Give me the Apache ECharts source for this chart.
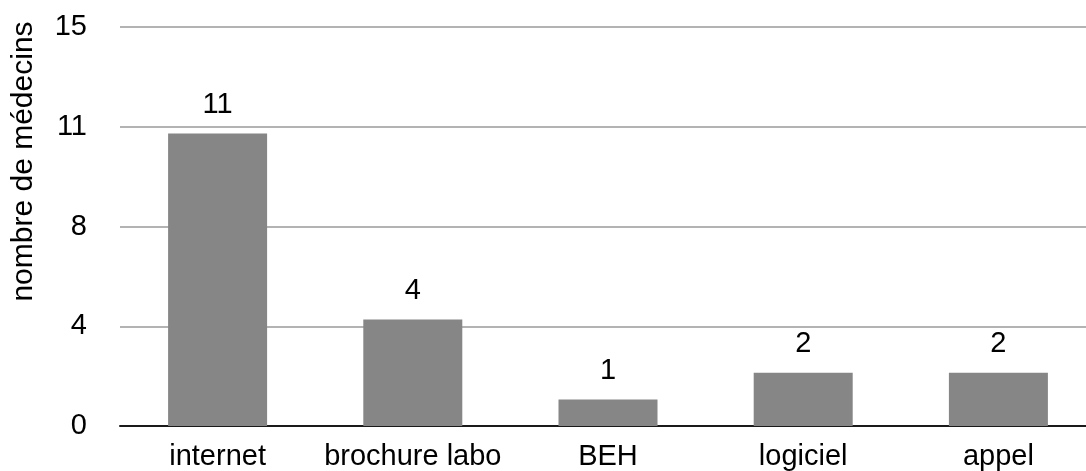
<!DOCTYPE html>
<html><head><meta charset="utf-8">
<script src="https://cdn.jsdelivr.net/npm/echarts@6/dist/echarts.min.js"></script>
<style>html,body{margin:0;padding:0;background:#fff;overflow:hidden;width:1086px;height:471px}#c{width:1100px;height:471px}</style>
</head><body><div id="c"></div>
<script>
var categories = ["internet", "brochure labo", "BEH", "logiciel", "appel"];
var values = [11, 4, 1, 2, 2];
var yMax = 15;
var yInterval = 3.75;
var yAxisName = "nombre de médecins";

var font = "'Liberation Sans', Arial, Helvetica, sans-serif";
var chart = echarts.init(document.getElementById('c'));
chart.setOption({
  animation: false,
  grid: { left: 120, right: 4, top: 27, bottom: 45, containLabel: false },
  xAxis: {
    type: 'category', data: categories,
    axisLine: { lineStyle: { color: '#1a1a1a', width: 2 } },
    axisTick: { show: false },
    axisLabel: { color: '#000', fontSize: 29, fontFamily: font, margin: 16, interval: 0, hideOverlap: false }
  },
  yAxis: {
    type: 'value', min: 0, max: yMax, interval: yInterval,
    name: yAxisName, nameLocation: 'middle', nameGap: 81,
    nameTextStyle: { color: '#000', fontSize: 30, fontFamily: font, padding: [0, 0, 0, 130] },
    axisLine: { show: false }, axisTick: { show: false },
    axisLabel: { color: '#000', fontSize: 29, fontFamily: font, margin: 33,
      formatter: function (v) { return String(Math.round(v)); } },
    splitLine: { lineStyle: { color: '#b3b3b3', width: 2 } }
  },
  series: [{
    type: 'bar', data: values, barWidth: 99,
    itemStyle: { color: '#868686' },
    label: { show: true, position: 'top', distance: 14, color: '#000', fontSize: 29, fontFamily: font }
  }]
});
</script></body></html>
